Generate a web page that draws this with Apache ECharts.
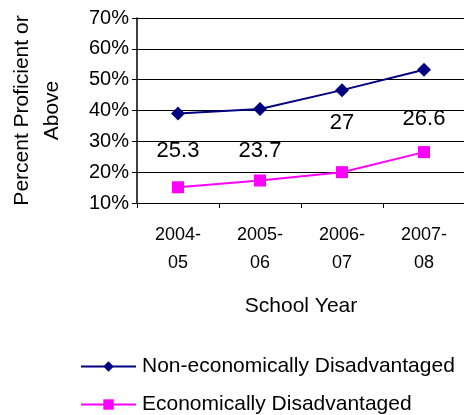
<!DOCTYPE html>
<html>
<head>
<meta charset="utf-8">
<script src="https://cdn.jsdelivr.net/npm/echarts@6/dist/echarts.min.js"></script>
<style>
  html, body { margin: 0; padding: 0; background: #fff; }
  #chart { width: 464px; height: 415px; }
</style>
</head>
<body>
<div id="chart"></div>
<script>
// School years on the category axis
const schoolYears = ['2004-\n05', '2005-\n06', '2006-\n07', '2007-\n08'];

// Percent proficient or above, by group
const nonEconDisadvantaged = [39.0, 40.5, 46.6, 53.2];
const econDisadvantaged = [15.1, 17.3, 20.0, 26.5];

// Gap between the two groups, as printed on the chart
const gapValues = [25.3, 23.7, 27, 26.6];

// Y-axis range and step (percent)
const yMin = 10, yMax = 70, yStep = 10;

const seriesNames = ['Non-economically Disadvantaged', 'Economically Disadvantaged'];

const chart = echarts.init(document.getElementById('chart'));

// Vertical level (in axis units) at which each gap figure is written
const gapLabelLevel = [26.8, 26.8, 36.1, 37.2];

const FONT = '"Liberation Sans", Arial, sans-serif';

function legendFor(name, top) {
  return {
    orient: 'horizontal',
    left: 80,
    top: top,
    padding: 0,
    itemWidth: 55,
    itemHeight: 13,
    itemGap: 0,
    textStyle: { fontFamily: FONT, fontSize: 21, color: '#000', padding: [0, 0, 0, 1] },
    data: [name]
  };
}

chart.setOption({
  animation: false,
  backgroundColor: '#ffffff',
  textStyle: { fontFamily: FONT, color: '#000' },
  grid: { left: 137, top: 18, width: 328, height: 185, containLabel: false, outerBoundsMode: 'none' },
  xAxis: {
    type: 'category',
    data: schoolYears,
    boundaryGap: true,
    name: 'School Year',
    nameLocation: 'middle',
    nameGap: 93,
    nameTextStyle: { fontFamily: FONT, fontSize: 21, color: '#000' },
    axisLine: { lineStyle: { color: '#000', width: 1 } },
    axisTick: { show: true, alignWithLabel: false, length: 5, inside: false, lineStyle: { color: '#000' } },
    axisLabel: { fontFamily: FONT, fontSize: 18, color: '#000', lineHeight: 28, margin: 18 },
    splitLine: { show: false }
  },
  yAxis: {
    type: 'value',
    min: yMin,
    max: yMax,
    interval: yStep,
    name: 'Percent Proficient or\nAbove',
    nameLocation: 'middle',
    nameRotate: 90,
    nameGap: 70,
    nameTextStyle: { fontFamily: FONT, fontSize: 21, color: '#000', lineHeight: 30 },
    axisLine: { show: true, lineStyle: { color: '#000', width: 1.5 } },
    axisTick: { show: true, length: 5, lineStyle: { color: '#000' } },
    axisLabel: { formatter: '{value}%', fontFamily: FONT, fontSize: 20, color: '#000', margin: 8 },
    splitLine: { show: true, lineStyle: { color: '#000', width: 1 } }
  },
  legend: [legendFor(seriesNames[0], 356), legendFor(seriesNames[1], 394)],
  series: [
    {
      name: seriesNames[0],
      type: 'line',
      data: nonEconDisadvantaged,
      symbol: 'diamond',
      symbolSize: 14,
      lineStyle: { color: '#000080', width: 2 },
      itemStyle: { color: '#000080' },
      z: 3
    },
    {
      name: seriesNames[1],
      type: 'line',
      data: econDisadvantaged,
      symbol: 'rect',
      symbolSize: 12,
      lineStyle: { color: '#ff00ff', width: 2 },
      itemStyle: { color: '#ff00ff' },
      z: 3
    },
    {
      // Gap figures written between the two lines
      name: 'gap',
      type: 'scatter',
      data: gapValues.map((g, i) => [i, gapLabelLevel[i]]),
      symbolSize: 1,
      itemStyle: { color: 'rgba(255,255,255,0)', opacity: 1 },
      silent: true,
      emphasis: { disabled: true },
      label: {
        show: true,
        position: 'inside',
        fontFamily: FONT,
        fontSize: 22,
        color: '#000000',
        opacity: 1,
        textBorderWidth: 0,
        formatter: p => String(gapValues[p.dataIndex])
      },
      z: 4
    }
  ]
});
</script>
</body>
</html>
